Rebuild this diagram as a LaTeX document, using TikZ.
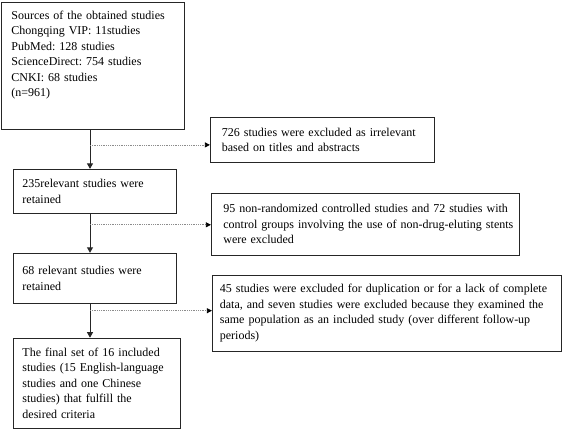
\documentclass[tikz,border=0pt]{standalone}
\usepackage{fontspec}
\setmainfont{Liberation Serif}
\usetikzlibrary{positioning,arrows.meta}

\begin{document}
\begin{tikzpicture}[box/.style = {draw=black!85, line width=0.9pt, inner xsep=10pt, align=left, anchor=north west, font=\fontsize{12pt}{15.5pt}\selectfont\frenchspacing},
        flow/.style = {line width=0.9pt, black!85, -{Triangle[length=5.5pt,width=6pt]}},
        drop/.style = {line width=0.8pt, black!45, densely dotted, -{Triangle[length=5pt,width=5pt,black]}}]
        \useasboundingbox (0,0) rectangle (567pt,-436pt);
        \node[box, minimum width=183pt, minimum height=127pt, text width=163pt] (src) at (1pt,-2pt) {Sources of the obtained studies\\Chongqing VIP: 11studies\\PubMed: 128 studies\\ScienceDirect: 754 studies\\CNKI: 68 studies\\(n=961)\\[9pt]\mbox{}};
        \node[box, minimum width=163pt, minimum height=44pt, inner xsep=9.5pt, text width=144pt, below right=39pt and 11.5pt of src.south west] (ret1) {235relevant studies were\\retained};
        \node[box, minimum width=163pt, minimum height=50pt, inner xsep=9.5pt, text width=144pt, below right=39pt and 0pt of ret1.south west] (ret2) {68 relevant studies were\\retained};
        \node[box, minimum width=167pt, minimum height=90pt, inner xsep=9.5pt, text width=148pt, below right=34pt and 0pt of ret2.south west] (final) {The final set of 16 included\\studies (15 English-language\\studies and one Chinese\\studies) that fulfill the\\desired criteria};
        \node[box, minimum width=224pt, minimum height=45pt, inner xsep=11.5pt, text width=201pt, below right=115pt and 25pt of src.north east] (ex1) {726 studies were excluded as irrelevant\\based on titles and abstracts};
        \node[box, minimum width=308pt, minimum height=62pt, inner xsep=12pt, text width=284pt, below right=30pt and 1pt of ex1.south west] (ex2) {\mbox{95 non-randomized controlled studies and 72 studies with}\\\mbox{control groups involving the use of non-drug-eluting stents}\\were excluded};
        \node[box, minimum width=349pt, minimum height=76pt, inner xsep=7.5pt, text width=334pt, below right=19pt and 1pt of ex2.south west] (ex3) {45 studies were excluded for duplication or for a lack of complete\\data, and seven studies were excluded because they examined the\\same population as an included study (over different follow-up\\periods)};
        \coordinate (axis) at (90pt,0);
        \coordinate (j1) at ([yshift=-15pt]src.south -| axis);
        \coordinate (j2) at ([yshift=-11pt]ret1.south -| axis);
        \coordinate (j3) at ([yshift=-7pt]ret2.south -| axis);
        \draw[flow] (src.south -| axis) -- (ret1.north -| axis);
        \draw[flow] (ret1.south -| axis) -- (ret2.north -| axis);
        \draw[flow] (ret2.south -| axis) -- (final.north -| axis);
        \draw[drop] (j1) -- (j1 -| ex1.west);
        \draw[drop] (j2) -- (j2 -| ex2.west);
        \draw[drop] (j3) -- (j3 -| ex3.west);
    \end{tikzpicture}
\end{document}
